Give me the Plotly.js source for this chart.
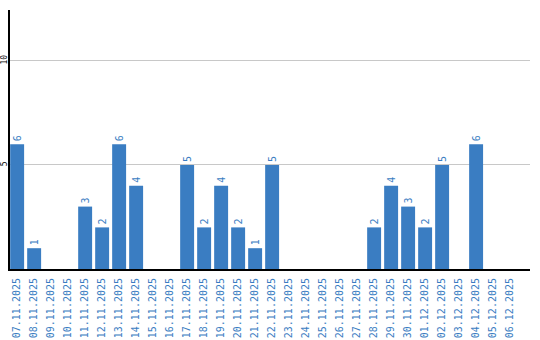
<!DOCTYPE html>
<html>
<head>
<meta charset="utf-8">
<script src="https://cdn.plot.ly/plotly-3.0.1.min.js"></script>
<style>html,body{margin:0;padding:0;background:#fff;}#chart{width:540px;height:340px;}</style>
</head>
<body>
<div id="chart"></div>
<script>
const dates = ["07.11.2025","08.11.2025","09.11.2025","10.11.2025","11.11.2025","12.11.2025","13.11.2025","14.11.2025","15.11.2025","16.11.2025","17.11.2025","18.11.2025","19.11.2025","20.11.2025","21.11.2025","22.11.2025","23.11.2025","24.11.2025","25.11.2025","26.11.2025","27.11.2025","28.11.2025","29.11.2025","30.11.2025","01.12.2025","02.12.2025","03.12.2025","04.12.2025","05.12.2025","06.12.2025"];
const counts = [6,1,0,0,3,2,6,4,0,0,5,2,4,2,1,5,0,0,0,0,0,2,4,3,2,5,0,6,0,0];
const yTicks = [5,10];

const blue = '#3a7dc2';
const mono = '"DejaVu Sans Mono", "Liberation Mono", monospace';

Plotly.newPlot('chart', [{
  type: 'bar',
  x: dates,
  y: counts,
  width: 0.82,
  marker: {color: blue},
  text: counts.map(v => v ? String(v) : ''),
  textposition: 'outside',
  textangle: -90,
  cliponaxis: false,
  textfont: {family: mono, size: 10, color: blue},
  hoverinfo: 'none'
}], {
  width: 540, height: 340,
  margin: {l: 10, r: 10, t: 10, b: 71, pad: 0},
  paper_bgcolor: '#fff', plot_bgcolor: '#fff',
  showlegend: false,
  bargap: 0.18,
  xaxis: {
    type: 'category',
    range: [-0.42, 30.17],
    showline: true, linecolor: '#000', linewidth: 2,
    showgrid: false, ticks: '',
    tickangle: -90,
    ticklabelstandoff: 3,
    tickfont: {family: mono, size: 10, color: blue},
    fixedrange: true
  },
  yaxis: {
    range: [0, 12.45],
    tickvals: yTicks,
    ticktext: yTicks.map(String),
    tickangle: -90,
    ticklabelstandoff: -2,
    showline: true, linecolor: '#000', linewidth: 2,
    showgrid: true, gridcolor: '#c8c8c8', gridwidth: 1,
    zeroline: false, ticks: '',
    tickfont: {family: mono, size: 8, color: '#000'},
    fixedrange: true
  }
}, {staticPlot: true, displayModeBar: false});
</script>
</body>
</html>
